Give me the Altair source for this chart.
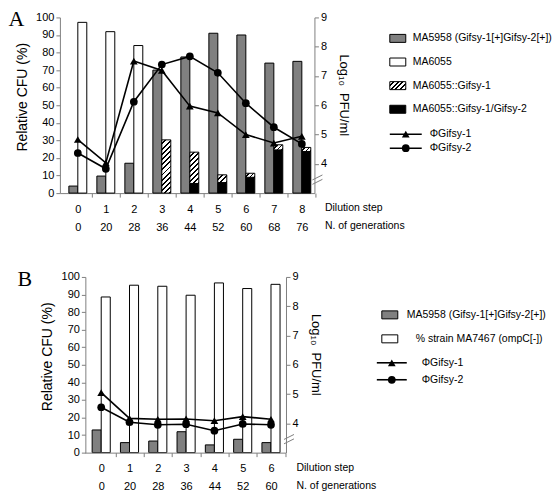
import json
import altair as alt
import pandas as pd

FONT = "Liberation Sans"
SERIF = "Liberation Serif"
GRAY = "#808080"
AXIS_GRAY = "#808080"

# ---------------- Panel A data ----------------
steps_a = [0, 1, 2, 3, 4, 5, 6, 7, 8]
gens_a = ["0", "20", "28", "36", "44", "52", "60", "68", "76"]
ma5958_a = [4.0, 9.7, 17.0, 70.0, 77.5, 91.0, 90.0, 74.0, 75.0]
ma6055_a = [97.2, 91.9, 84.0, 0, 0, 0, 0, 0, 0]
gifsy1_a = [0, 0, 0, 30.3, 17.8, 4.4, 2.3, 2.9, 2.3]      # MA6055::Gifsy-1 (hatched)
gifsy12_a = [0, 0, 0, 0, 5.5, 6.0, 9.0, 24.6, 23.7]       # MA6055::Gifsy-1/Gifsy-2 (black)
phi1_a = [4.83, 4.03, 7.51, 7.19, 5.97, 5.74, 5.00, 4.71, 4.94]
phi2_a = [4.37, 3.83, 6.12, 7.39, 7.67, 7.11, 6.07, 5.25, 4.68]
legend_bars_a = ["MA5958 (Gifsy-1[+]Gifsy-2[+])", "MA6055",
                 "MA6055::Gifsy-1", "MA6055::Gifsy-1/Gifsy-2"]

# ---------------- Panel B data ----------------
steps_b = [0, 1, 2, 3, 4, 5, 6]
gens_b = ["0", "20", "28", "36", "44", "52", "60"]
ma5958_b = [12.9, 5.7, 6.6, 11.9, 4.4, 7.6, 5.7]
ma7467_b = [88.6, 95.3, 94.7, 89.6, 96.6, 93.4, 95.8]
phi1_b = [5.05, 4.17, 4.14, 4.15, 4.09, 4.23, 4.14]
phi2_b = [4.55, 4.04, 3.95, 3.97, 3.75, 3.98, 3.95]
legend_bars_b = ["MA5958 (Gifsy-1[+]Gifsy-2[+])", "% strain MA7467 (ompC[-])"]

legend_lines = ["\u03a6Gifsy-1", "\u03a6Gifsy-2"]
left_ticks = list(range(0, 101, 10))
right_ticks = [4, 5, 6, 7, 8, 9]
right_domain = [3, 9]
break_lo = [3.30, 3.45]
break_hi = [3.47, 3.62]

BW = 0.32          # bar width in category units
H = 176            # plot height
LEG_FS = 10.5


def hatch(w, h, period=3.6, frac=0.62):
    t = (w + h) / (w * w + h * h)
    n = max(1, round((w + h) / 1.4142 / period))
    stops = []
    for k in range(n):
        a, m, b = k / n, (k + frac) / n, (k + 1) / n
        stops += [alt.GradientStop(offset=a, color="white"),
                  alt.GradientStop(offset=m, color="white"),
                  alt.GradientStop(offset=m, color="black"),
                  alt.GradientStop(offset=b, color="black")]
    return alt.LinearGradient(gradient="linear", stops=stops,
                              x1=0, y1=0, x2=w * t, y2=h * t)


def make_panel(letter, steps, gens, gray, stacks, phi1, phi2, domain, width,
               legend_items, legend_fills, legend_geom, line_geom, letter_x, shift=0.0):
    """shift: horizontal distance (px) from the common left edge to this panel's y axis."""
    unit = (width - shift) / (domain[1] - domain[0])
    dom = [domain[0] - shift / unit, domain[1]]
    rows = []
    for i, s in enumerate(steps):
        rows.append(dict(step=s, x0=s - BW, x1=s, y0=0, y1=gray[i], series="gray"))
        base = 0.0
        for name, vals in stacks:
            v = vals[i]
            if v > 0:
                rows.append(dict(step=s, x0=s, x1=s + BW, y0=base, y1=base + v, series=name))
                base += v
    bars = pd.DataFrame(rows)

    xscale = alt.Scale(domain=dom, nice=False, zero=False)
    xaxis = alt.Axis(values=steps, title=None, grid=False, domain=(shift == 0),
                     labelExpr="[datum.label, " + json.dumps(gens) + "[datum.value]]",
                     labelLineHeight=18, labelPadding=6, labelOverlap=False,
                     labelFlush=False, tickOffset=unit / 2, labelOffset=-unit / 2,
                     tickSize=4)
    yscale = alt.Scale(domain=[0, 100], nice=False)
    yaxis = alt.Axis(values=left_ticks, title=None, labelPadding=2, grid=False,
                     offset=-shift)
    rscale = alt.Scale(domain=right_domain, nice=False, zero=False)
    raxis = alt.Axis(orient="right", values=right_ticks, title=None,
                     labelPadding=2, grid=False)

    def enc_bar(ch):
        return ch.encode(x=alt.X("x0:Q", scale=xscale, axis=xaxis), x2="x1",
                         y=alt.Y("y0:Q", scale=yscale, axis=yaxis), y2="y1")

    fills = {"gray": GRAY, "white": "white", "black": "black"}
    bar_layers = []
    for name, col in fills.items():
        if (bars.series == name).any():
            bar_layers.append(enc_bar(alt.Chart(bars).transform_filter(
                alt.datum.series == name).mark_rect(fill=col, stroke="black", strokeWidth=1)))
    for _, r in bars[bars.series == "hatch"].iterrows():
        w = BW * unit
        h = (r.y1 - r.y0) * H / 100
        bar_layers.append(enc_bar(alt.Chart(bars).transform_filter(
            (alt.datum.series == "hatch") & (alt.datum.step == int(r.step))).mark_rect(
            fill=hatch(w, h), stroke="black", strokeWidth=1)))
    bars_group = alt.layer(*bar_layers)

    ldf = pd.DataFrame({"step": steps * 2, "val": phi1 + phi2,
                        "phage": ["g1"] * len(steps) + ["g2"] * len(steps)})
    brk = pd.DataFrame({"lo": break_lo, "hi": break_hi})

    def enc_line(ch):
        return ch.encode(x=alt.X("step:Q", scale=xscale, axis=xaxis),
                         y=alt.Y("val:Q", scale=rscale, axis=raxis))

    line_layer = enc_line(alt.Chart(ldf).mark_line(color="black", strokeWidth=1.6)).encode(
        detail="phage:N")
    tri = enc_line(alt.Chart(ldf).transform_filter(alt.datum.phage == "g1").mark_point(
        shape="triangle-up", filled=True, color="black", size=60, opacity=1))
    cir = enc_line(alt.Chart(ldf).transform_filter(alt.datum.phage == "g2").mark_point(
        shape="circle", filled=True, color="black", size=60, opacity=1))
    brk_layer = alt.Chart(brk).mark_rule(color=AXIS_GRAY, strokeWidth=1).encode(
        x=alt.value(width - 2), x2=alt.value(width + 8),
        y=alt.Y("lo:Q", scale=rscale, axis=raxis), y2="hi")
    lines_group = alt.layer(line_layer, tri, cir, brk_layer)

    # legend for the bar series
    lx0, ly0, ly1, ltx = legend_geom
    lyscale = alt.Scale(type="point", domain=legend_items, range=[ly0, ly1], padding=0)
    lb = pd.DataFrame({"item": legend_items})
    rect_path = "M-1,-0.5H1V0.5H-1Z"
    leg_layers = []
    for item, f in zip(legend_items, legend_fills):
        fill = hatch(16, 8, period=3.2) if f == "hatch" else f
        leg_layers.append(alt.Chart(lb).transform_filter(alt.datum.item == item).mark_point(
            shape=rect_path, size=256, filled=True, fill=fill, stroke="black",
            strokeWidth=1, opacity=1).encode(
            x=alt.value(lx0), y=alt.Y("item:N", scale=lyscale, axis=None)))
    for item, tx in zip(legend_items, ltx):
        leg_layers.append(alt.Chart(lb).transform_filter(alt.datum.item == item).mark_text(
            align="left", baseline="middle", font=FONT, fontSize=LEG_FS, color="black").encode(
            x=alt.value(tx), y=alt.Y("item:N", scale=lyscale, axis=None), text="item:N"))
    legend_bars_group = alt.layer(*leg_layers)

    # legend for the phage lines
    mx0, mx1, mxs, my0, my1, mtx = line_geom
    lmscale = alt.Scale(type="point", domain=legend_lines, range=[my0, my1], padding=0)
    lm = pd.DataFrame({"item": legend_lines})
    ymk = alt.Y("item:N", scale=lmscale, axis=None)
    lm_rule = alt.Chart(lm).mark_rule(color="black", strokeWidth=1.6).encode(
        x=alt.value(mx0), x2=alt.value(mx1), y=ymk)
    lm_tri = alt.Chart(lm).transform_filter(alt.datum.item == legend_lines[0]).mark_point(
        shape="triangle-up", filled=True, color="black", size=60, opacity=1).encode(
        x=alt.value(mxs), y=ymk)
    lm_cir = alt.Chart(lm).transform_filter(alt.datum.item == legend_lines[1]).mark_point(
        shape="circle", filled=True, color="black", size=60, opacity=1).encode(
        x=alt.value(mxs), y=ymk)
    lm_txt = alt.Chart(lm).mark_text(align="left", baseline="middle", font=FONT,
                                     fontSize=LEG_FS, color="black").encode(
        x=alt.value(mtx), y=ymk, text="item:N")
    legend_lines_group = alt.layer(lm_rule, lm_tri, lm_cir, lm_txt)

    one = pd.DataFrame({"t": [letter]})
    ann = [
        alt.Chart(one).mark_text(align="left", baseline="top", font=SERIF,
                                 fontSize=22, color="black").encode(
            x=alt.value(letter_x), y=alt.value(-8), text="t:N"),
        alt.Chart(pd.DataFrame({"t": ["Relative CFU (%)"]})).mark_text(
            align="center", baseline="middle", angle=270, font=FONT, fontSize=14,
            color="black").encode(x=alt.value(-37 + shift), y=alt.value(80), text="t:N"),
        alt.Chart(pd.DataFrame({"t": ["Log\u2081\u2080\u00a0\u00a0PFU/ml"]})).mark_text(
            align="center", baseline="middle", angle=90, font=FONT, fontSize=13,
            color="black").encode(x=alt.value(width + 30), y=alt.value(78), text="t:N"),
        alt.Chart(pd.DataFrame({"t": ["Dilution step"]})).mark_text(
            align="left", baseline="middle", font=FONT, fontSize=LEG_FS, color="black").encode(
            x=alt.value(width + 10.5), y=alt.value(H + 15), text="t:N"),
        alt.Chart(pd.DataFrame({"t": ["N. of generations"]})).mark_text(
            align="left", baseline="middle", font=FONT, fontSize=LEG_FS, color="black").encode(
            x=alt.value(width + 10.5), y=alt.value(H + 33), text="t:N"),
    ]
    if shift:
        # x-axis baseline starting at the shifted y axis
        ann.append(alt.Chart(one).mark_rule(color=AXIS_GRAY, strokeWidth=1).encode(
            x=alt.value(shift), x2=alt.value(width), y=alt.value(H + 0.5)))

    return alt.layer(bars_group, lines_group, legend_bars_group, legend_lines_group,
                     *ann).resolve_scale(y="independent").properties(width=width, height=H)


panel_a = make_panel(
    "A", steps_a, gens_a, ma5958_a,
    [("black", gifsy12_a), ("hatch", gifsy1_a), ("white", ma6055_a)],
    phi1_a, phi2_a, [-0.64, 8.45], 255,
    legend_bars_a, [GRAY, "white", "hatch", "black"],
    (338.5, 21, 92, [353.5] * 4),
    (330.5, 362.5, 346.5, 117, 131, 370.5),
    letter_x=-51.5)

SHIFT_B = 25.5
panel_b = make_panel(
    "B", steps_b, gens_b, ma5958_b, [("white", ma7467_b)],
    phi1_b, phi2_b, [-0.56, 6.53], 201 + SHIFT_B,
    legend_bars_b, [GRAY, "white"],
    (305 + SHIFT_B, 38, 62, [322 + SHIFT_B, 331 + SHIFT_B]),
    (292 + SHIFT_B, 322 + SHIFT_B, 307 + SHIFT_B, 86, 103, 337 + SHIFT_B),
    letter_x=-42.5, shift=SHIFT_B)

chart = alt.vconcat(panel_a, panel_b, spacing=36).properties(
    padding={"left": 0, "top": 0, "right": 0, "bottom": 0}
).configure_view(stroke=None).configure_axis(
    domainColor=AXIS_GRAY, tickColor=AXIS_GRAY, labelColor="black", titleColor="black",
    labelFont=FONT, titleFont=FONT, labelFontSize=11, titleFontWeight="normal",
    tickSize=4, grid=False
)

chart.save("out.html", embed_options={"renderer": "svg", "actions": False})
